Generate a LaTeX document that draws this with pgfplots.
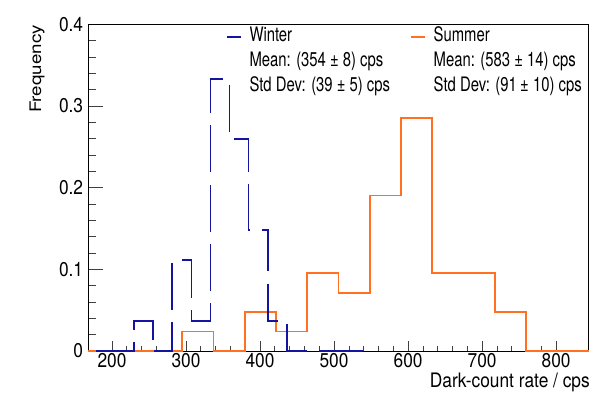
\documentclass[border=0pt]{standalone}
\usepackage{fontspec}
\setmainfont{TeX Gyre Heros}[FakeStretch=0.87]
\newfontfamily\legfont{TeX Gyre Heros}[FakeStretch=0.745]
\newfontfamily\ylabfont{TeX Gyre Heros}
\usepackage{pgfplots}
\pgfplotsset{compat=1.18}
\definecolor{winter}{RGB}{20,20,160}
\definecolor{summer}{RGB}{255,112,32}
\begin{document}
\begin{tikzpicture}
\begin{axis}[
  at={(0,0)}, anchor=south west,
  scale only axis, width=500.4bp, height=326.7bp,
  xmin=168, xmax=844, ymin=0, ymax=0.4,
  clip=false,
  xtick={200,300,...,800}, minor x tick num=4,
  ytick={0,0.1,0.2,0.3,0.4}, yticklabels={0,0.1,0.2,0.3,0.4}, minor y tick num=4,
  xtick pos=left, ytick pos=left, tick align=inside,
  major tick length=10bp, minor tick length=5bp,
  ytick style={/pgfplots/major tick length=15bp,/pgfplots/minor tick length=7.5bp},
  tick style={black!75, line width=0.7bp},
  axis line style={line width=0.8bp},
  /pgf/number format/assume math mode=true,
  ticklabel style={font=\fontsize{20}{21}\selectfont, inner sep=0pt},
  xticklabel style={anchor=north, yshift=-2bp},
  yticklabel style={anchor=east, xshift=-5bp},
  xlabel={Dark-count rate / cps},
  xlabel style={at={([xshift=1.3bp,yshift=-36.7bp]rel axis cs:1,0)}, anchor=base east, inner sep=0pt, font=\fontsize{20}{21}\selectfont},
  ylabel={Frequency},
  ylabel style={at={([xshift=-47.2bp,yshift=-0.7bp]rel axis cs:0,1)}, anchor=base east, inner sep=0pt, font=\ylabfont\fontsize{18.8}{19}\selectfont, yscale=0.85},
  legend columns=2,
  legend cell align=left,
  legend style={draw=none, fill=none, at={(rel axis cs:0.2746,0.9896)}, anchor=north west, inner sep=0pt, column sep=0pt, row sep=6.7bp, font=\legfont\fontsize{20}{21}\selectfont, nodes={inner sep=0pt, text height=14bp, text depth=4bp}},
  legend image code/.code={\draw[#1, solid] (0bp,0bp) -- (14.3bp,0bp); \path (22bp,0bp);},
]
\addplot[summer, line width=1.8bp, const plot, forget plot] coordinates {
(168,0) (210.25,0) (252.5,0) (294.75,0.0238) (337,0) (379.25,0.0476) (421.5,0.0238)
(463.75,0.0952) (506,0.0714) (548.25,0.1905) (590.5,0.2857) (632.75,0.0952)
(675,0.0952) (717.25,0.0476) (759.5,0) (801.75,0) (844,0)};
\addplot[winter, line width=1.8bp, const plot, dash pattern=on 47bp off 12.3bp, forget plot] coordinates {
(178.62,0) (204.36,0) (230.10,0.0370) (255.84,0) (281.58,0.1111) (307.32,0.0370)
(333.06,0.3333) (358.80,0.2593) (384.54,0.1481) (410.28,0.0370) (436.02,0)
(461.76,0) (487.50,0) (513.24,0) (538.98,0)};
\addlegendimage{winter, line width=1.6bp}
\addlegendentry{\makebox[160.6bp][l]{Winter}}
\addlegendimage{summer, line width=1.6bp}
\addlegendentry{Summer}
\addlegendimage{empty legend}
\addlegendentry{\makebox[160.6bp][l]{Mean: (354 ± 8) cps}}
\addlegendimage{empty legend}
\addlegendentry{Mean: (583 ± 14) cps}
\addlegendimage{empty legend}
\addlegendentry{\makebox[160.6bp][l]{Std Dev: (39 ± 5) cps}}
\addlegendimage{empty legend}
\addlegendentry{Std Dev: (91\,± 10) cps}
\end{axis}
\pgfresetboundingbox
\path[use as bounding box] (-88.3bp,-45bp) rectangle (505.7bp,351bp);
\end{tikzpicture}
\end{document}
